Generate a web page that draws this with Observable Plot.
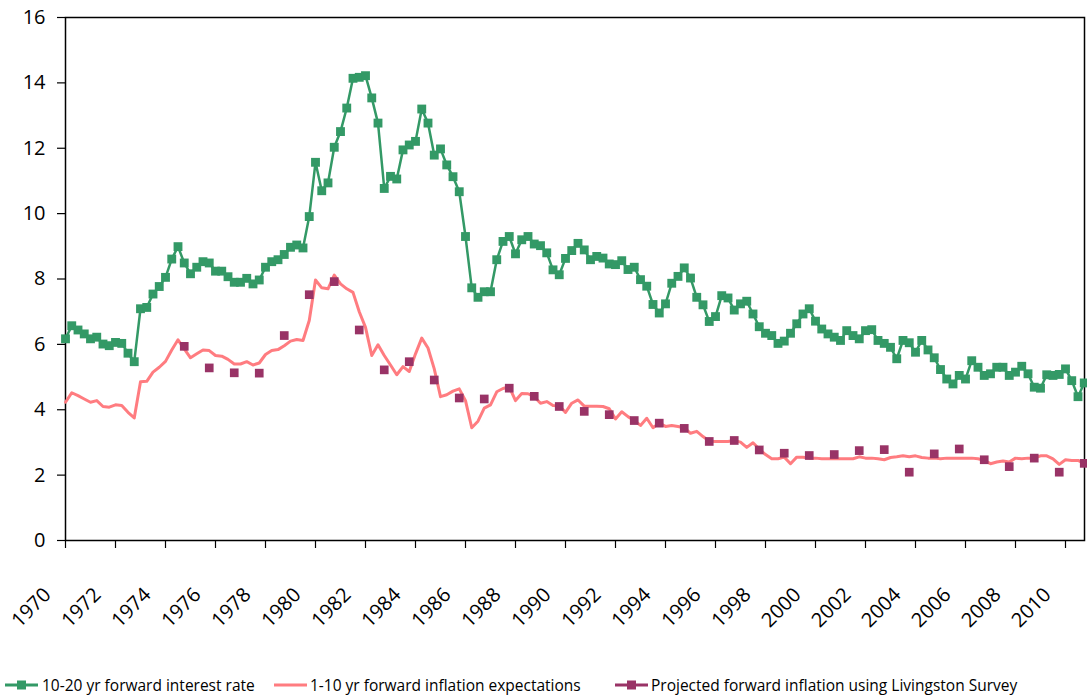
<!DOCTYPE html>
<html><head><meta charset="utf-8">
<script src="https://cdn.jsdelivr.net/npm/d3@7"></script>
<script src="https://cdn.jsdelivr.net/npm/@observablehq/plot@0.6"></script>
<style>
body{margin:0;background:#fff;font-family:"Open Sans",sans-serif;}
#chart{height:640px;}
#legend{position:relative;height:60px;}
.sw{position:absolute;top:35px;}
.lt{position:absolute;top:34px;font-size:15.5px;line-height:22px;color:#000;white-space:nowrap;}
</style></head><body>
<div id="chart"></div>
<div id="legend"></div>
<script>
// Quarterly series, starting 1970 Q1
const startYear = 1970;
const forwardRate = [6.17,6.57,6.44,6.32,6.17,6.22,6.01,5.96,6.06,6.03,5.73,5.47,7.09,7.13,7.54,7.77,8.05,8.61,8.99,8.49,
8.16,8.36,8.53,8.49,8.24,8.24,8.07,7.90,7.90,8.02,7.85,7.97,8.36,8.53,8.59,8.75,8.97,9.04,8.95,9.91,
11.57,10.70,10.94,12.03,12.51,13.23,14.14,14.17,14.22,13.54,12.77,10.77,11.14,11.06,11.95,12.10,12.21,13.20,12.77,11.79,
11.98,11.49,11.13,10.67,9.30,7.73,7.44,7.61,7.61,8.59,9.15,9.30,8.77,9.20,9.30,9.07,9.02,8.80,8.28,8.13,
8.63,8.87,9.09,8.89,8.59,8.69,8.64,8.46,8.44,8.56,8.29,8.36,7.98,7.78,7.22,6.96,7.24,7.87,8.08,8.34,
8.03,7.44,7.21,6.70,6.85,7.49,7.42,7.05,7.24,7.32,6.93,6.54,6.34,6.27,6.03,6.10,6.34,6.63,6.93,7.09,
6.71,6.47,6.32,6.22,6.12,6.42,6.27,6.17,6.42,6.45,6.12,6.03,5.91,5.56,6.12,6.05,5.76,6.12,5.83,5.59,
5.23,4.94,4.79,5.05,4.94,5.50,5.30,5.05,5.10,5.30,5.30,5.05,5.15,5.33,5.10,4.69,4.66,5.07,5.05,5.08,
5.25,4.89,4.40,4.82];
const inflationExp = [4.23,4.52,4.43,4.33,4.23,4.28,4.10,4.08,4.15,4.13,3.92,3.75,4.86,4.87,5.15,5.30,5.48,5.83,6.14,5.86,
5.59,5.71,5.83,5.81,5.66,5.64,5.54,5.40,5.40,5.47,5.37,5.43,5.69,5.81,5.84,5.96,6.10,6.15,6.12,6.73,
7.97,7.73,7.70,8.12,7.85,7.70,7.59,7.00,6.52,5.66,5.99,5.66,5.37,5.07,5.32,5.17,5.71,6.19,5.89,5.25,
4.40,4.46,4.57,4.64,4.28,3.45,3.65,4.05,4.15,4.55,4.65,4.70,4.28,4.50,4.49,4.40,4.20,4.25,4.13,4.12,
3.92,4.20,4.30,4.11,4.11,4.11,4.10,4.03,3.72,3.94,3.79,3.67,3.52,3.74,3.45,3.59,3.49,3.52,3.49,3.45,
3.28,3.34,3.18,3.04,3.03,3.03,3.03,3.06,3.01,2.85,2.99,2.80,2.63,2.50,2.50,2.55,2.35,2.55,2.55,2.52,
2.52,2.50,2.50,2.50,2.50,2.50,2.50,2.56,2.52,2.52,2.50,2.47,2.54,2.56,2.59,2.56,2.59,2.54,2.52,2.52,
2.50,2.52,2.52,2.52,2.52,2.52,2.50,2.45,2.35,2.40,2.43,2.40,2.52,2.50,2.52,2.52,2.59,2.59,2.50,2.33,
2.47,2.45,2.45,2.36];
// Livingston Survey projections, one per year (Q4)
const livingstonYears = d3.range(1974, 2011);
const livingston = [5.94,5.28,5.13,5.12,6.27,7.52,7.92,6.44,5.22,5.47,4.91,4.36,4.33,4.66,4.41,4.10,3.95,3.85,3.67,3.59,
3.43,3.03,3.06,2.77,2.67,2.60,2.63,2.75,2.78,2.09,2.65,2.80,2.47,2.26,2.52,2.09,2.36];
const yTicks = [0,2,4,6,8,10,12,14,16];
const xTicks = d3.range(1970, 2011, 2);

const green = "#339966", pink = "#FF7C80", purple = "#993366";

const rateData = forwardRate.map((v, i) => ({t: startYear + i / 4, v}));
const inflData = inflationExp.map((v, i) => ({t: startYear + i / 4, v}));
const livData = livingston.map((v, i) => ({t: livingstonYears[i] + 0.75, v}));

const chart = Plot.plot({
  width: 1087,
  height: 640,
  marginLeft: 65,
  marginRight: 3,
  marginTop: 17,
  marginBottom: 100,
  style: {fontFamily: "Open Sans, sans-serif", background: "#fff", color: "#000"},
  x: {domain: [1970, 2010.76]},
  y: {domain: [0, 16]},
  marks: [
    Plot.frame({stroke: "#000", strokeWidth: 1.5}),
    Plot.axisY({ticks: yTicks, tickSize: 8, tickPadding: 12, fontSize: 20, label: null, strokeWidth: 1.2}),
    Plot.axisX({ticks: xTicks, tickSize: 8, tickFormat: () => "", label: null, strokeWidth: 1.2}),
    Plot.text(xTicks, {x: d => d, text: d => String(d), frameAnchor: "bottom", rotate: -45,
      textAnchor: "end", lineAnchor: "middle", dx: -18, dy: 51, fontSize: 20}),
    Plot.line(rateData, {x: "t", y: "v", stroke: green, strokeWidth: 2.5}),
    Plot.dot(rateData, {x: "t", y: "v", symbol: "square", r: 5, fill: green}),
    Plot.line(inflData, {x: "t", y: "v", stroke: pink, strokeWidth: 3}),
    Plot.dot(livData, {x: "t", y: "v", symbol: "square", r: 4.9, fill: purple})
  ]
});
document.getElementById("chart").appendChild(chart);

// Legend
const legend = document.getElementById("legend");
const items = [
  {label: "10-20 yr forward interest rate", color: green, marker: true, sx: 5, tx: 42},
  {label: "1-10 yr forward inflation expectations", color: pink, marker: false, sx: 274, tx: 310},
  {label: "Projected forward inflation using Livingston Survey", color: purple, marker: true, sx: 615, tx: 651}
];
for (const it of items) {
  const sw = document.createElementNS("http://www.w3.org/2000/svg", "svg");
  sw.setAttribute("width", 33); sw.setAttribute("height", 20);
  sw.setAttribute("class", "sw");
  sw.style.left = it.sx + "px";
  sw.innerHTML = `<line x1="0" x2="33" y1="10" y2="10" stroke="${it.color}" stroke-width="3"/>` +
    (it.marker ? `<rect x="12" y="5.5" width="9" height="9" fill="${it.color}"/>` : "");
  legend.appendChild(sw);
  const t = document.createElement("div");
  t.className = "lt";
  t.style.left = it.tx + "px";
  t.textContent = it.label;
  legend.appendChild(t);
}
</script>
</body></html>
